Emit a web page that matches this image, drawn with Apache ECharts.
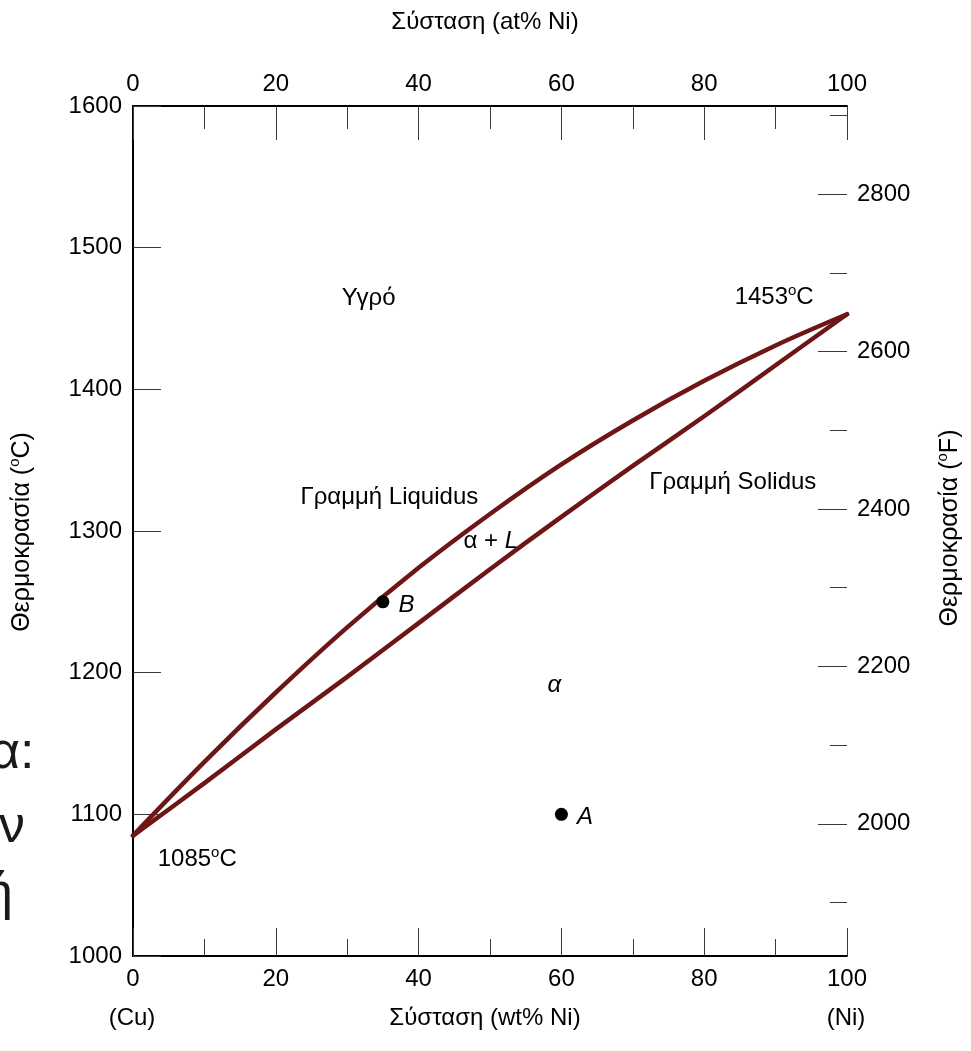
<!DOCTYPE html>
<html>
<head>
<meta charset="utf-8">
<script src="https://cdn.jsdelivr.net/npm/echarts@6/dist/echarts.min.js"></script>
<style>
  html, body { margin: 0; padding: 0; background: #ffffff; }
  #chart { width: 971px; height: 1051px; }
</style>
</head>
<body>
<div id="chart"></div>
<script>
// Cu–Ni binary phase diagram: liquidus and solidus curves, wt% Ni vs temperature

const compositionWt = [0, 10, 20, 30, 40, 50, 60, 70, 80, 90, 100];
const liquidusC = [1085, 1137, 1186, 1232, 1274, 1312, 1347, 1378, 1406, 1431, 1453];
const solidusC  = [1085, 1122, 1160, 1197, 1235, 1273, 1310, 1346, 1381, 1417, 1453];

const alloyNames = ['A', 'B'];
const alloyWt = [60, 35];
const alloyC = [1100, 1250];

const fahrenheitMajor = [2000, 2200, 2400, 2600, 2800];
const fahrenheitMinor = [1900, 2100, 2300, 2500, 2700, 2900];

const regionTexts = ['Υγρό', '1453{sup|o}C', 'Γραμμή Liquidus', 'α + {it|L}', 'Γραμμή Solidus', '{it|α}', '1085{sup|o}C'];
const regionWt = [33, 89.8, 35.9, 50.1, 84, 59, 9];
const regionC = [1464, 1465, 1324, 1293, 1334, 1191, 1068];

const C_MIN = 1000, C_MAX = 1600;
const toF = c => c * 9 / 5 + 32;

const FONT = "'Liberation Sans', Arial, Helvetica, sans-serif";
const INK = '#000000';
const CURVE = '#6e1616';
const TICK = '#3a3a3a';
const FS = 24;

const pair = (xs, ys) => xs.map((x, i) => [x, ys[i]]);
const plain = v => String(v);

const richStyles = {
  sup: { fontSize: 15, fontFamily: FONT, color: INK, verticalAlign: 'top', lineHeight: 15 },
  it: { fontSize: FS, fontFamily: FONT, color: INK, fontStyle: 'italic', lineHeight: 28 }
};

const chart = echarts.init(document.getElementById('chart'), null, { renderer: 'canvas' });

const axisLine = { show: true, lineStyle: { color: INK, width: 2 } };
const labelBase = { color: INK, fontSize: FS, fontFamily: FONT, formatter: plain };

chart.setOption({
  backgroundColor: '#ffffff',
  animation: false,
  grid: { left: 133, right: 124, top: 106, bottom: 95, containLabel: false },
  xAxis: [
    {
      type: 'value', position: 'bottom', min: 0, max: 100, interval: 20,
      axisLine: axisLine,
      axisTick: { show: true, inside: true, length: 28, lineStyle: { color: TICK, width: 1 } },
      minorTick: { show: true, splitNumber: 2, length: 17, lineStyle: { color: TICK, width: 1 } },
      axisLabel: Object.assign({ margin: 11 }, labelBase),
      splitLine: { show: false }
    },
    {
      type: 'value', position: 'top', min: 0, max: 100, interval: 20,
      axisLine: axisLine,
      axisTick: { show: true, inside: true, length: 34, lineStyle: { color: TICK, width: 1 } },
      minorTick: { show: true, splitNumber: 2, length: 23, lineStyle: { color: TICK, width: 1 } },
      axisLabel: Object.assign({ margin: 10 }, labelBase),
      splitLine: { show: false }
    }
  ],
  yAxis: [
    {
      type: 'value', position: 'left', min: C_MIN, max: C_MAX, interval: 100,
      axisLine: axisLine,
      axisTick: { show: true, inside: true, length: 28, lineStyle: { color: TICK, width: 1 } },
      axisLabel: Object.assign({ margin: 11 }, labelBase),
      splitLine: { show: false }
    },
    {
      // °F scale: line and labels
      type: 'value', position: 'right', min: toF(C_MIN), max: toF(C_MAX),
      axisLine: axisLine,
      axisTick: { show: false },
      axisLabel: Object.assign({ margin: 10, customValues: fahrenheitMajor }, labelBase),
      splitLine: { show: false }
    },
    {
      // °F scale: long ticks every 200 °F
      type: 'value', position: 'right', min: toF(C_MIN), max: toF(C_MAX),
      axisLine: { show: false },
      axisTick: { show: true, inside: true, length: 29, customValues: fahrenheitMajor, lineStyle: { color: TICK, width: 1 } },
      axisLabel: { show: false },
      splitLine: { show: false }
    },
    {
      // °F scale: short ticks in between
      type: 'value', position: 'right', min: toF(C_MIN), max: toF(C_MAX),
      axisLine: { show: false },
      axisTick: { show: true, inside: true, length: 17, customValues: fahrenheitMinor, lineStyle: { color: TICK, width: 1 } },
      axisLabel: { show: false },
      splitLine: { show: false }
    }
  ],
  series: [
    {
      name: 'Liquidus', type: 'line', xAxisIndex: 0, yAxisIndex: 0,
      data: pair(compositionWt, liquidusC),
      smooth: 0.35, showSymbol: false, symbol: 'none',
      lineStyle: { color: CURVE, width: 4.5, cap: 'round', join: 'round' },
      z: 3
    },
    {
      name: 'Solidus', type: 'line', xAxisIndex: 0, yAxisIndex: 0,
      data: pair(compositionWt, solidusC),
      smooth: 0.35, showSymbol: false, symbol: 'none',
      lineStyle: { color: CURVE, width: 4.5, cap: 'round', join: 'round' },
      z: 3
    },
    {
      name: 'Alloys', type: 'scatter', xAxisIndex: 0, yAxisIndex: 0,
      data: alloyNames.map((n, i) => ({ name: n, value: [alloyWt[i], alloyC[i]] })),
      symbol: 'circle', symbolSize: 13,
      itemStyle: { color: '#000000', opacity: 1 },
      label: {
        show: true, position: 'right', distance: 9, offset: [0, 3],
        formatter: p => p.name,
        color: INK, fontSize: FS, fontFamily: FONT, fontStyle: 'italic',
        textBorderWidth: 0, opacity: 1
      },
      z: 5
    },
    {
      name: 'Regions', type: 'scatter', xAxisIndex: 0, yAxisIndex: 0,
      data: regionTexts.map((t, i) => ({ name: t, value: [regionWt[i], regionC[i]] })),
      symbolSize: 0, silent: true,
      itemStyle: { opacity: 1 },
      label: {
        show: true, position: 'inside', align: 'center', verticalAlign: 'middle',
        formatter: p => p.name,
        color: INK, fontSize: FS, fontFamily: FONT, lineHeight: 28,
        textBorderWidth: 0, opacity: 1,
        rich: richStyles
      },
      z: 6
    }
  ],
  graphic: [
    { type: 'text', x: 485, y: 22, style: { text: 'Σύσταση (at% Ni)', fill: INK, font: '24px ' + FONT, align: 'center', verticalAlign: 'middle' } },
    { type: 'text', x: 485, y: 1018, style: { text: 'Σύσταση (wt% Ni)', fill: INK, font: '24px ' + FONT, align: 'center', verticalAlign: 'middle' } },
    { type: 'text', x: 132, y: 1018, style: { text: '(Cu)', fill: INK, font: '24px ' + FONT, align: 'center', verticalAlign: 'middle' } },
    { type: 'text', x: 846, y: 1018, style: { text: '(Ni)', fill: INK, font: '24px ' + FONT, align: 'center', verticalAlign: 'middle' } },
    {
      type: 'text', x: 22, y: 532, rotation: Math.PI / 2,
      style: {
        text: 'Θερμοκρασία ({s|o}C)', fill: INK, font: '25px ' + FONT, align: 'center', verticalAlign: 'middle',
        lineHeight: 30,
        rich: { s: { fontSize: 15, fontFamily: FONT, fill: INK, verticalAlign: 'top', lineHeight: 15 } }
      }
    },
    {
      type: 'text', x: 950, y: 528, rotation: Math.PI / 2,
      style: {
        text: 'Θερμοκρασία ({s|o}F)', fill: INK, font: '25px ' + FONT, align: 'center', verticalAlign: 'middle',
        lineHeight: 30,
        rich: { s: { fontSize: 15, fontFamily: FONT, fill: INK, verticalAlign: 'top', lineHeight: 15 } }
      }
    },
    { type: 'text', x: -10, y: 754, style: { text: 'α:', fill: '#1a1a1a', font: '52px ' + FONT, verticalAlign: 'middle' } },
    { type: 'text', x: -1, y: 828, style: { text: 'ν', fill: '#1a1a1a', font: '52px ' + FONT, verticalAlign: 'middle' } },
    { type: 'text', x: -16, y: 895, style: { text: 'ή', fill: '#1a1a1a', font: '52px ' + FONT, verticalAlign: 'middle' } }
  ]
});
</script>
</body>
</html>
